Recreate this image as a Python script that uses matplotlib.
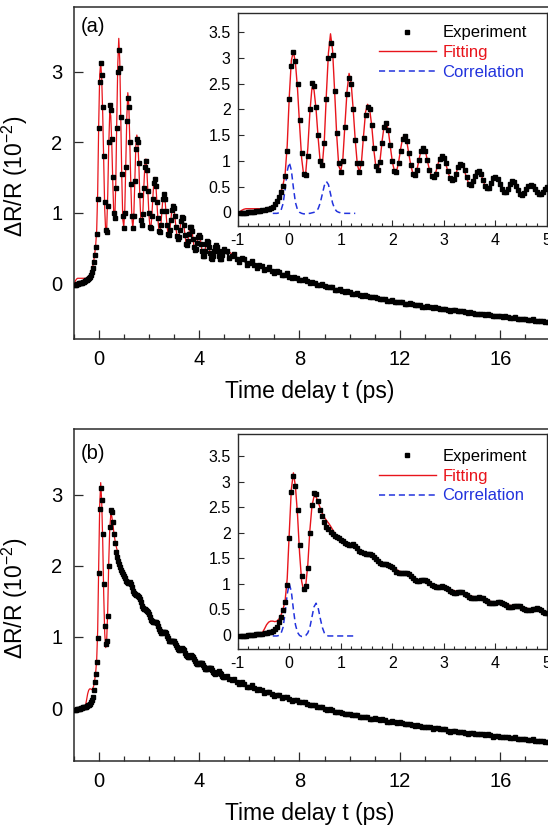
import numpy as np
import matplotlib
matplotlib.use("Agg")
import matplotlib.pyplot as plt
from matplotlib.ticker import MultipleLocator, FuncFormatter

plt.rcParams["font.family"] = ["Liberation Sans", "DejaVu Sans"]
plt.rcParams["mathtext.fontset"] = "custom"
plt.rcParams["mathtext.rm"] = "Liberation Sans"
plt.rcParams["axes.unicode_minus"] = False

# sampling grids of the measurement (ps)
t_fine = np.round(np.arange(-0.96, 5.001, 0.04), 2)   # -0.96 .. 5.00
t_tail = np.round(np.arange(5.1, 18.001, 0.1), 1)     # 5.1 .. 18.0
t_corr = np.round(np.arange(-0.32, 1.281, 0.04), 2)   # -0.32 .. 1.28

# ---------------- panel (a) ----------------
exp_a_fine = [
    -0.02, -0.02, -0.01, -0.01, 0.00, 0.00, 0.01, 0.01, 0.02, 0.02,
    0.03, 0.04, 0.05, 0.06, 0.07, 0.09, 0.11, 0.16, 0.22, 0.30,
    0.40, 0.52, 0.70, 1.20, 2.20, 2.85, 3.12, 2.95, 2.50, 1.80,
    1.15, 0.75, 0.72, 1.10, 2.00, 2.52, 2.45, 2.05, 1.50, 1.00,
    0.92, 1.35, 2.20, 3.00, 3.30, 3.05, 2.35, 1.55, 0.95, 0.78,
    1.00, 1.65, 2.30, 2.62, 2.50,
    2.0, 1.4, 0.95, 0.78, 0.95, 1.45, 1.9, 2.05, 2.0, 1.7,
    1.25, 0.9, 0.82, 0.98, 1.35, 1.65, 1.73, 1.6, 1.3, 1.0,
    0.8, 0.78, 0.95, 1.2, 1.42, 1.48, 1.38, 1.15, 0.92, 0.74,
    0.72, 0.82, 1.02, 1.2, 1.26, 1.2, 1.02, 0.83, 0.7, 0.68,
    0.75, 0.9, 1.04, 1.1, 1.06, 0.95, 0.8, 0.67, 0.62, 0.65,
    0.75, 0.88, 0.94, 0.92, 0.82, 0.68, 0.56, 0.54, 0.6, 0.7,
    0.79, 0.8, 0.74, 0.63, 0.52, 0.47, 0.48, 0.57, 0.66, 0.69,
    0.65, 0.56, 0.46, 0.39, 0.39, 0.46, 0.55, 0.6, 0.59, 0.52,
    0.43, 0.36, 0.34, 0.38, 0.45, 0.52, 0.54, 0.52, 0.46, 0.39,
    0.35, 0.35, 0.4, 0.46, 0.49,
]
exp_a_tail = [
    0.45, 0.36, 0.38, 0.42, 0.35, 0.30, 0.36, 0.35, 0.26, 0.28,
    0.31, 0.26, 0.22, 0.26, 0.25, 0.19, 0.20, 0.23, 0.17, 0.15,
    0.17, 0.16, 0.11, 0.12, 0.14, 0.09, 0.07, 0.09, 0.08, 0.05,
    0.05, 0.06, 0.03, 0.01, 0.02, 0.01, -0.02, -0.02, -0.01, -0.04,
    -0.06, -0.05, -0.06, -0.09, -0.09, -0.08, -0.11, -0.13, -0.11, -0.12,
    -0.15, -0.15, -0.14, -0.16, -0.18, -0.17, -0.18, -0.20, -0.20, -0.19,
    -0.21, -0.23, -0.22, -0.23, -0.25, -0.25, -0.24, -0.26, -0.27, -0.26,
    -0.27, -0.29, -0.29, -0.28, -0.30, -0.31, -0.31, -0.31, -0.33, -0.33,
    -0.32, -0.34, -0.35, -0.34, -0.35, -0.37, -0.37, -0.36, -0.38, -0.39,
    -0.38, -0.38, -0.40, -0.40, -0.39, -0.41, -0.42, -0.41, -0.42, -0.44,
    -0.44, -0.43, -0.44, -0.45, -0.44, -0.45, -0.47, -0.46, -0.46, -0.47,
    -0.48, -0.47, -0.48, -0.49, -0.49, -0.48, -0.50, -0.51, -0.50, -0.50,
    -0.52, -0.52, -0.51, -0.53, -0.54, -0.53, -0.53, -0.55, -0.55, -0.54,
]
fit_a_fine = [
    0.01, 0.04, 0.06, 0.07, 0.07, 0.07, 0.07, 0.07, 0.07, 0.07,
    0.07, 0.07, 0.07, 0.07, 0.08, 0.09, 0.12, 0.17, 0.23, 0.31,
    0.41, 0.54, 0.75, 1.30, 2.25, 2.95, 3.13, 2.90, 2.40, 1.70,
    1.05, 0.72, 0.78, 1.25, 1.95, 2.42, 2.38, 2.00, 1.45, 0.98,
    0.90, 1.40, 2.30, 3.10, 3.47, 3.15, 2.35, 1.50, 0.90, 0.80,
    1.05, 1.70, 2.35, 2.70, 2.52,
    2.0, 1.4, 0.93, 0.78, 0.97, 1.48, 1.95, 2.1, 2.0, 1.68,
    1.22, 0.88, 0.82, 1.0, 1.38, 1.68, 1.76, 1.6, 1.28, 0.98,
    0.8, 0.79, 0.97, 1.23, 1.45, 1.5, 1.38, 1.13, 0.9, 0.75,
    0.73, 0.84, 1.04, 1.22, 1.28, 1.2, 1.0, 0.82, 0.7, 0.69,
    0.77, 0.92, 1.06, 1.12, 1.06, 0.93, 0.78, 0.66, 0.62, 0.66,
    0.77, 0.9, 0.96, 0.92, 0.8, 0.67, 0.56, 0.54, 0.61, 0.72,
    0.8, 0.81, 0.74, 0.62, 0.51, 0.47, 0.49, 0.58, 0.67, 0.7,
    0.65, 0.55, 0.45, 0.39, 0.4, 0.47, 0.56, 0.61, 0.59, 0.51,
    0.42, 0.36, 0.35, 0.39, 0.46, 0.53, 0.55, 0.52, 0.45, 0.38,
    0.35, 0.36, 0.41, 0.47, 0.5,
]
fit_a_tail_t = [5.5, 6.0, 6.5, 7.0, 7.5, 8.0, 9.0, 10.0, 11.0, 12.0, 13.0, 14.0, 15.0, 16.0, 17.0, 18.0]
fit_a_tail = [0.36, 0.29, 0.23, 0.17, 0.11, 0.06, -0.04, -0.13, -0.20, -0.27, -0.33, -0.38, -0.43, -0.47, -0.51, -0.55]
corr_a = [
    -0.02, -0.02, -0.02, -0.01, 0.04, 0.17, 0.45, 0.80, 0.97, 0.82,
    0.48, 0.19, 0.05, 0.00, -0.02, -0.03, -0.03, -0.02, -0.02, -0.01,
    0.00, 0.02, 0.07, 0.18, 0.35, 0.52, 0.60, 0.54, 0.36, 0.18,
    0.07, 0.02, 0.00, -0.01, -0.02, -0.02, -0.02, -0.02, -0.02, -0.02, -0.02,
]

# ---------------- panel (b) ----------------
exp_b_fine = [
    -0.03, -0.03, -0.02, -0.02, -0.01, -0.01, 0.00, 0.00, 0.01, 0.01,
    0.02, 0.02, 0.03, 0.04, 0.05, 0.06, 0.08, 0.11, 0.16, 0.25,
    0.36, 0.48, 0.65, 0.98, 1.90, 2.80, 3.10, 2.92, 2.45, 1.75,
    1.15, 0.90, 0.95, 1.30, 2.00, 2.55, 2.78, 2.76, 2.62, 2.45,
    2.32, 2.20, 2.12, 2.07, 2.02, 1.98, 1.94, 1.91, 1.89, 1.86,
    1.83, 1.79, 1.77, 1.76, 1.76,
    1.77, 1.74, 1.70, 1.65, 1.62, 1.60, 1.59, 1.59, 1.58, 1.56,
    1.53, 1.49, 1.44, 1.41, 1.39, 1.39, 1.38, 1.37, 1.35, 1.32,
    1.28, 1.24, 1.22, 1.21, 1.21, 1.21, 1.21, 1.19, 1.15, 1.11,
    1.08, 1.06, 1.06, 1.07, 1.07, 1.07, 1.05, 1.01, 0.98, 0.95,
    0.94, 0.94, 0.94, 0.95, 0.94, 0.92, 0.89, 0.86, 0.83, 0.82,
    0.82, 0.83, 0.84, 0.83, 0.81, 0.78, 0.75, 0.73, 0.72, 0.72,
    0.73, 0.74, 0.73, 0.72, 0.69, 0.66, 0.63, 0.62, 0.62, 0.63,
    0.64, 0.64, 0.63, 0.60, 0.58, 0.55, 0.55, 0.55, 0.56, 0.57,
    0.57, 0.56, 0.53, 0.51, 0.49, 0.48, 0.49, 0.50, 0.51, 0.52,
    0.50, 0.48, 0.45, 0.43, 0.43,
]
exp_b_tail = [
    0.45, 0.41, 0.40, 0.41, 0.37, 0.34, 0.36, 0.34, 0.30, 0.30,
    0.32, 0.28, 0.25, 0.27, 0.25, 0.21, 0.22, 0.23, 0.20, 0.17,
    0.19, 0.18, 0.14, 0.15, 0.16, 0.13, 0.10, 0.12, 0.11, 0.08,
    0.08, 0.08, 0.06, 0.04, 0.05, 0.04, 0.01, 0.01, 0.01, -0.01,
    -0.03, -0.02, -0.03, -0.05, -0.05, -0.05, -0.07, -0.08, -0.08, -0.08,
    -0.10, -0.10, -0.10, -0.12, -0.13, -0.12, -0.13, -0.15, -0.15, -0.14,
    -0.16, -0.17, -0.16, -0.17, -0.19, -0.19, -0.18, -0.20, -0.21, -0.20,
    -0.21, -0.23, -0.23, -0.22, -0.24, -0.25, -0.24, -0.25, -0.26, -0.26,
    -0.26, -0.27, -0.29, -0.28, -0.28, -0.30, -0.30, -0.30, -0.32, -0.33,
    -0.32, -0.32, -0.34, -0.34, -0.33, -0.35, -0.36, -0.35, -0.35, -0.37,
    -0.37, -0.36, -0.37, -0.38, -0.37, -0.38, -0.40, -0.39, -0.39, -0.40,
    -0.41, -0.40, -0.41, -0.42, -0.42, -0.41, -0.43, -0.44, -0.43, -0.43,
    -0.45, -0.45, -0.44, -0.46, -0.47, -0.46, -0.46, -0.48, -0.48, -0.47,
]
fit_b_fine = [
    -0.02, -0.02, -0.01, -0.01, 0.00, 0.00, 0.00, 0.00, 0.01, 0.01,
    0.02, 0.05, 0.12, 0.20, 0.25, 0.27, 0.27, 0.26, 0.27, 0.31,
    0.39, 0.50, 0.68, 1.10, 2.00, 2.85, 3.17, 2.90, 2.35, 1.60,
    1.05, 0.85, 0.97, 1.38, 2.05, 2.52, 2.71, 2.70, 2.60, 2.48,
    2.38, 2.30, 2.24, 2.19, 2.13, 2.06, 1.99, 1.93, 1.90, 1.87,
    1.84, 1.81, 1.78, 1.77, 1.76,
]
fit_b_tail_t = [1.4, 1.6, 1.8, 2.0, 2.25, 2.5, 2.75, 3.0, 3.5, 4.0, 4.5, 5.0, 6.0, 7.0, 8.0,
                9.0, 10.0, 11.0, 12.0, 13.0, 14.0, 15.0, 16.0, 17.0, 18.0]
fit_b_tail = [1.64, 1.55, 1.41, 1.31, 1.20, 1.07, 1.00, 0.93, 0.77, 0.63, 0.54, 0.45, 0.30, 0.19, 0.09,
              -0.01, -0.09, -0.15, -0.21, -0.26, -0.32, -0.36, -0.40, -0.44, -0.48]
corr_b = [
    -0.02, -0.02, -0.02, -0.01, 0.03, 0.15, 0.43, 0.80, 1.00, 0.85,
    0.50, 0.20, 0.05, -0.01, -0.03, -0.03, -0.01, 0.04, 0.15, 0.35,
    0.55, 0.62, 0.53, 0.33, 0.15, 0.04, -0.01, -0.02, -0.02, -0.02,
    -0.02, -0.02, -0.02, -0.02, -0.02, -0.02, -0.02, -0.02, -0.02, -0.02, -0.02,
]

SPINE = "#2b2b2b"
RED = "#e8141b"
BLUE = "#2233dd"


def style_axes(ax, lw):
    for s in ax.spines.values():
        s.set_color(SPINE)
        s.set_linewidth(lw)


def draw_panel(fig, main_rect, inset_rect, exp_fine, exp_tail, fit_t, fit_v, corr_v,
               tag, tag_y, main_ylim, inset_ylim, leg_y):
    t_exp = np.concatenate([t_fine, t_tail])
    exp_v = exp_fine + exp_tail

    ax = fig.add_axes(main_rect)
    ax.plot(fit_t, fit_v, color=RED, lw=0.9, zorder=2)
    ax.plot(t_fine, exp_fine, ls="none", marker="s", ms=2.2, color="black", zorder=3)
    # dense tail: points overlap into a band in the original
    ax.plot(t_tail, exp_tail, ls="-", lw=1.8, marker="s", ms=2.2, color="black", zorder=3)
    ax.set_xlim(-1, 18.2)
    ax.set_ylim(*main_ylim)
    ax.xaxis.set_major_locator(MultipleLocator(4))
    ax.xaxis.set_minor_locator(MultipleLocator(1))
    ax.set_yticks([0, 1, 2, 3])
    ax.tick_params(which="both", direction="in", labelsize=14.5, width=0.9, color=SPINE,
                   top=False, right=False)
    ax.tick_params(which="major", length=6.5, pad=8)
    ax.tick_params(which="minor", length=3.5)
    style_axes(ax, 1.1)
    ax.set_xlabel("Time delay t (ps)", fontsize=16.5)
    ax.xaxis.set_label_coords(0.49, -0.125)
    ax.xaxis.label.set_va("top")
    ax.set_ylabel("ΔR/R (10$^{-2}$)", fontsize=16.5)
    ax.yaxis.set_label_coords(-0.091, 0.49)
    ax.text(0.015, tag_y, tag, transform=ax.transAxes, fontsize=14.5, ha="left", va="top")

    axi = fig.add_axes(inset_rect)
    axi.set_facecolor("white")
    corr_line, = axi.plot(t_corr, corr_v, color=BLUE, lw=1.1, ls=(0, (4, 2.5)), zorder=2)
    fit_line, = axi.plot(fit_t, fit_v, color=RED, lw=1.0, zorder=3)
    exp_pts, = axi.plot(t_exp, exp_v, ls="none", marker="s", ms=2.5, color="black", zorder=4)
    axi.set_xlim(-1, 5)
    axi.set_ylim(*inset_ylim)
    axi.xaxis.set_major_locator(MultipleLocator(1))
    axi.xaxis.set_minor_locator(MultipleLocator(0.2))
    axi.yaxis.set_major_locator(MultipleLocator(0.5))
    axi.yaxis.set_major_formatter(FuncFormatter(lambda v, p: f"{v:g}"))
    axi.tick_params(which="both", direction="in", labelsize=11.5, width=0.8, color=SPINE,
                    top=False, right=False)
    axi.tick_params(which="major", length=4, pad=5)
    axi.tick_params(which="minor", length=2.5)
    style_axes(axi, 1.0)

    leg = axi.legend([exp_pts, fit_line, corr_line], ["Experiment", "Fitting", "Correlation"],
                     loc="upper right", bbox_to_anchor=(0.934, leg_y), frameon=False,
                     fontsize=12, handlelength=3.4, handletextpad=0.4, labelspacing=0.28,
                     borderpad=0, borderaxespad=0, numpoints=1)
    for txt, c in zip(leg.get_texts(), ["black", RED, BLUE]):
        txt.set_color(c)
    return ax, axi


fig = plt.figure(figsize=(5.48, 8.31), dpi=100)

draw_panel(fig, [0.1343, 0.5921, 0.8794, 0.3991], [0.4338, 0.7284, 0.5644, 0.2563],
           exp_a_fine, exp_a_tail,
           np.concatenate([[-1.0], t_fine, fit_a_tail_t]),
           [0.0] + fit_a_fine + fit_a_tail,
           corr_a, "(a)", 0.972, (-0.79, 3.91), (-0.26, 3.88), 0.94)

draw_panel(fig, [0.1343, 0.0846, 0.8794, 0.3988], [0.4338, 0.2187, 0.5644, 0.2591],
           exp_b_fine, exp_b_tail,
           np.concatenate([[-1.0], t_fine[:55], fit_b_tail_t]),
           [-0.02] + fit_b_fine + fit_b_tail,
           corr_b, "(b)", 0.957, (-0.74, 3.92), (-0.28, 3.93), 0.93)

fig.savefig("out.png", dpi=100)
